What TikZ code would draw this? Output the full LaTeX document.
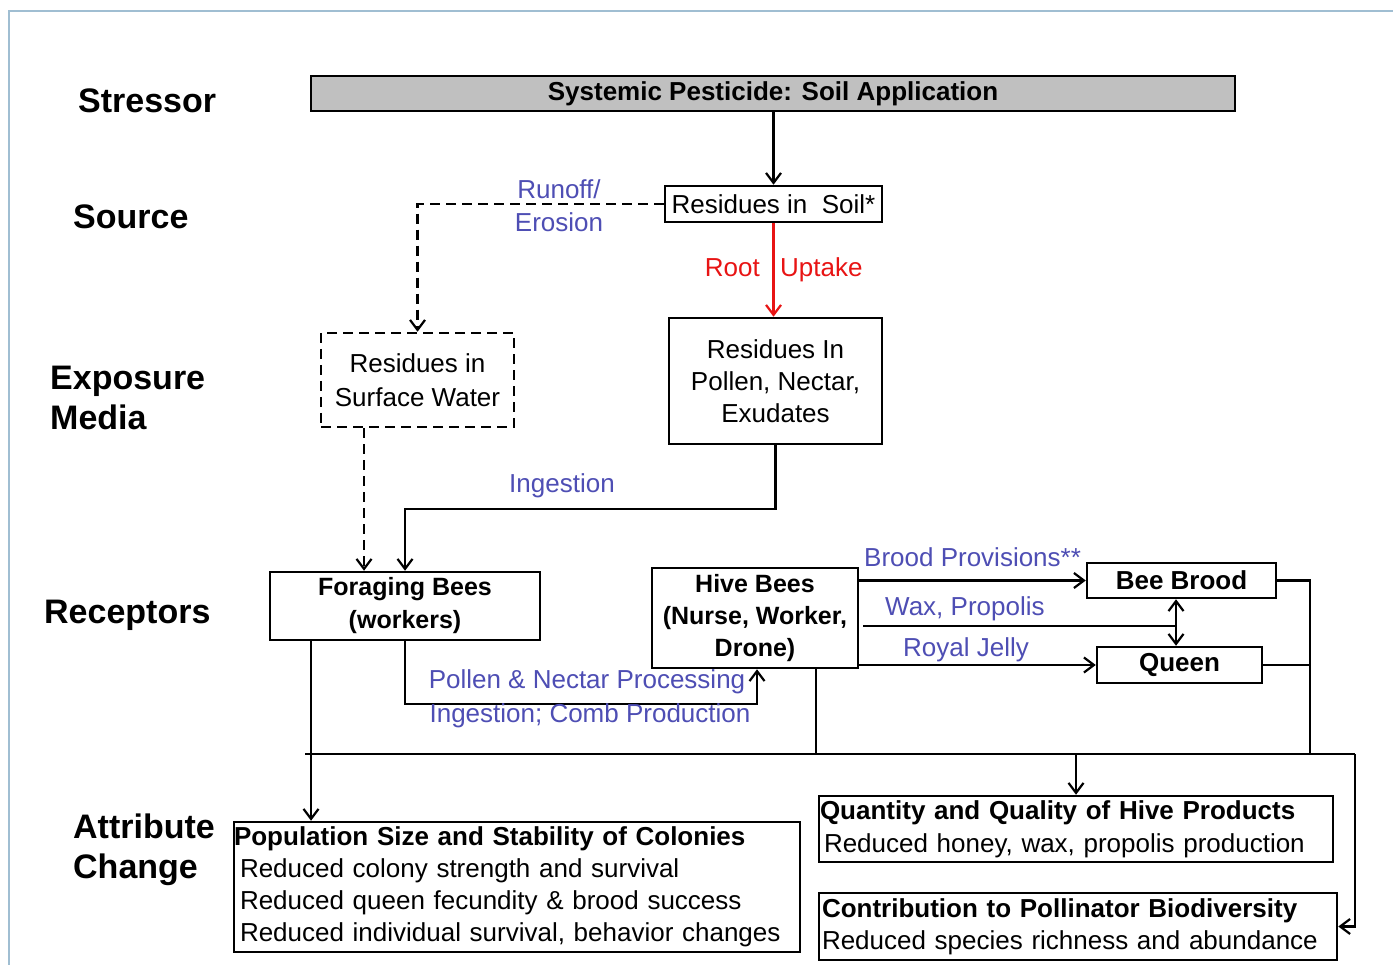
\documentclass[tikz,border=0pt]{standalone}
\usepackage{fontspec}
\setmainfont{Liberation Sans}
\usetikzlibrary{arrows.meta,calc}
\definecolor{labblue}{RGB}{78,78,180}
\definecolor{rootred}{RGB}{232,20,20}
\definecolor{boxgray}{RGB}{192,192,192}
\definecolor{frameblue}{RGB}{160,190,210}
\begin{document}
\begin{tikzpicture}[x=1pt,y=-1pt,
  box/.style={draw, line width=2.5pt, inner sep=0pt, align=center, font=\fontsize{26}{32}\selectfont},
  bbox/.style={box, font=\fontsize{26}{32}\selectfont\bfseries},
  lbox/.style={draw, line width=2.5pt, inner ysep=0pt, inner xsep=6pt, align=left, anchor=center},
  lvl/.style={anchor=west, align=left, inner sep=0pt, font=\fontsize{34}{40}\selectfont\bfseries},
  blab/.style={text=labblue, inner sep=0pt, font=\fontsize{26}{33}\selectfont},
  conn/.style={line width=2.2pt},
  arr/.style={conn, -{Straight Barb[length=10pt,width=15pt]}},
  dsh/.style={dash pattern=on 10pt off 6pt}
]
\useasboundingbox (0,0) rectangle (1393,965);
\fill[white] (0,0) rectangle (1393,965);
\draw[frameblue, line width=1.5pt] (9,965) -- (9,11) -- (1393,11);

% level labels
\node[lvl] (lstress) at (78,101) {Stressor};
\node[lvl] (lsource) at (73,217) {Source};
\node[lvl] (lexpo) at (50,398) {Exposure\\Media};
\node[lvl] (lrecep) at (44,615) {Receptors};
\node[lvl] (lattr) at (73,850) {Attribute\\Change};

% boxes
\node[bbox, fill=boxgray, line width=2.8pt, minimum width=924pt, minimum height=35pt] (stress) at (773,93.5) {Systemic Pesticide: Soil Application};
\node[box, minimum width=217pt, minimum height=36pt] (soil) at (773.5,204) {Residues in\ \ Soil*};
\node[box, dsh, minimum width=193pt, minimum height=94pt, font=\fontsize{26}{34}\selectfont] (water) at (417.5,380) {Residues in\\Surface Water};
\node[box, minimum width=213pt, minimum height=126pt] (pollen) at (775.5,381) {Residues In\\Pollen, Nectar,\\Exudates};
\node[bbox, minimum width=270pt, minimum height=68pt, font=\fontsize{25}{33}\selectfont\bfseries] (forage) at (405,606) {Foraging Bees\\(workers)};
\node[bbox, minimum width=206pt, minimum height=100pt, font=\fontsize{25}{32}\selectfont\bfseries] (hive) at (755,618) {Hive Bees\\(Nurse, Worker,\\Drone)};
\node[bbox, minimum width=189pt, minimum height=35pt] (brood) at (1181.5,580.5) {Bee Brood};
\node[bbox, minimum width=165pt, minimum height=36pt] (queen) at (1179.5,665) {Queen};

\node[lbox, minimum width=566pt, minimum height=130pt, text width=554pt, font=\fontsize{26}{32}\selectfont] (pop) at (517,887)
  {\hspace*{-6pt}\textbf{Population Size and Stability of Colonies}\\Reduced colony strength and survival\\Reduced queen fecundity \& brood success\\Reduced individual survival, behavior changes};
\node[lbox, inner xsep=5pt, minimum width=514pt, minimum height=66pt, text width=504pt, font=\fontsize{26}{33}\selectfont] (qual) at (1076,829)
  {\hspace*{-4pt}\textbf{Quantity and Quality of Hive Products}\\Reduced honey, wax, propolis production};
\node[lbox, inner xsep=3pt, minimum width=518pt, minimum height=67pt, text width=512pt, font=\fontsize{26}{32}\selectfont] (bio) at (1078,926.5)
  {\textbf{Contribution to Pollinator Biodiversity}\\Reduced species richness and abundance};

% helper coordinates
\coordinate (wx) at (1176,626);
\coordinate (busL) at (305,754);
\coordinate (busR) at (1355,754);
\coordinate (rc) at (1310,754);
\coordinate (hc) at (816,754);
\coordinate (fc) at (311,754);
\coordinate (wc) at (364,754);

% connectors
\draw[arr] (stress.south -| soil.north) -- (soil.north);
\draw[arr, dsh] (soil.west) -| (water.north);
\draw[arr, rootred] (soil.south) -- (pollen.north -| soil.south);
\draw[arr] (pollen.south) -- ++(0,64) -| (forage.north);
\draw[arr, dsh] (wc |- water.south) -- (wc |- forage.north);
\draw[arr] (forage.south) -- ++(0,63) -| ([xshift=2pt]hive.south);
\draw[arr] (hive.east |- brood.west) -- (brood.west);
\draw[arr] (hive.east |- queen.west) -- (queen.west);
\draw[conn] ([xshift=4pt]hive.east |- wx) -- (wx);
\draw[conn, {Straight Barb[length=10pt,width=15pt]}-{Straight Barb[length=10pt,width=15pt]}] (brood.south -| wx) -- (queen.north -| wx);
\draw[conn] (brood.east) -| (rc);
\draw[conn] (queen.east) -- (queen.east -| rc);
\draw[conn] (busL) -- (busR);
\draw[conn] (hc |- hive.south) -- (hc);
\draw[arr] (fc |- forage.south) -- (fc |- pop.north);
\draw[arr] (qual.north |- busL) -- (qual.north);
\draw[arr] (busR) |- (bio.east);

% connector labels
\node[blab, align=center] (runoff) at (559,206) {Runoff/\\Erosion};
\node[blab, text=rootred, anchor=base east] (root) at (760,277) {Root};
\node[blab, text=rootred, anchor=base west] (uptake) at (780,277) {Uptake};
\node[blab] (ingest) at (562,486) {Ingestion};
\node[blab] (pnp) at (587,682) {Pollen \& Nectar Processing};
\node[blab] (icp) at (590,716) {Ingestion; Comb Production};
\node[blab, anchor=west] (bprov) at (864,557) {Brood Provisions**};
\node[blab, anchor=west] (wax) at (885,609) {Wax, Propolis};
\node[blab, anchor=west] (rj) at (903,650) {Royal Jelly};
\end{tikzpicture}
\end{document}
